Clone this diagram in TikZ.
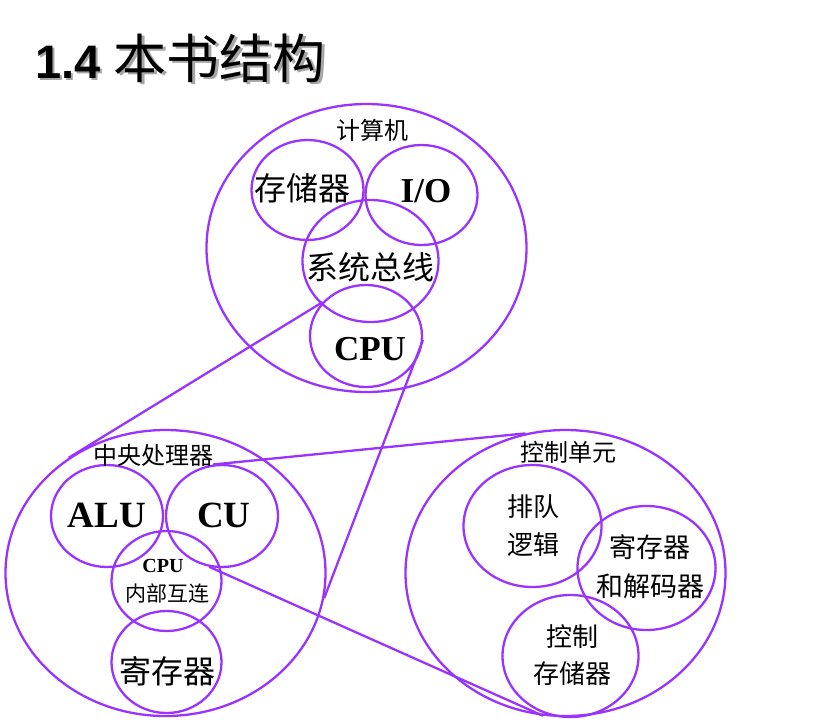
\documentclass[tikz,border=0pt]{standalone}
\usepackage{fontspec}
\setmainfont{Liberation Serif}
\newfontfamily\cjk{Noto Sans CJK SC}
\newfontfamily\titlefont{Liberation Sans}
\usetikzlibrary{shapes.geometric}
\definecolor{ring}{HTML}{9933FF}
\newcommand{\fsz}[1]{\fontsize{#1pt}{#1pt}\selectfont}
\newcommand{\heading}{\titlefont\bfseries\fsz{47}1.4 \cjk\mdseries\fsz{53}本书结构}
\tikzset{
  blob/.style={ellipse,draw=ring,line width=2.3pt,inner sep=0pt},
  link/.style={draw=ring,line width=2.3pt},
  zh/.style={font=\cjk\fsz{#1},inner sep=0pt},
  en/.style={font=\bfseries\fsz{#1},inner sep=0pt},
}
\begin{document}
\begin{tikzpicture}[x=1pt,y=-1pt]
  \path[use as bounding box] (0,0) rectangle (838,721);
  % title with its shadow
  \node[anchor=base west,inner sep=0pt] (title) at (35,78)
    {\rlap{\hspace{2.5pt}\raisebox{-2.5pt}{\color{black!35}\heading}}\heading};
  % computer
  \node[blob,minimum width=320pt,minimum height=288pt] (pc) at (366.5,248) {};
  \node[blob,minimum width=112pt,minimum height=100pt] (mem) at (307.5,190) {};
  \node[blob,minimum width=112pt,minimum height=100pt] (io) at (421.5,195) {};
  \node[blob,minimum width=136pt,minimum height=122pt] (bus) at (370.5,261) {};
  \node[blob,minimum width=112pt,minimum height=102pt] (cpu) at (366,336) {};
  \node[zh=24] (pc-t) at (372,130) {计算机};
  \node[zh=32] (mem-t) at (302,188) {存储器};
  \node[en=35] (io-t) at (426,191) {I/O};
  \node[zh=32] (bus-t) at (370,267) {系统总线};
  \node[en=35] (cpu-t) at (370,349) {CPU};
  % processor
  \node[blob,minimum width=320pt,minimum height=286pt] (proc) at (165.5,573) {};
  \node[blob,minimum width=112pt,minimum height=102pt] (alu) at (107,516) {};
  \node[blob,minimum width=112pt,minimum height=102pt] (cu) at (222,516) {};
  \node[blob,minimum width=110pt,minimum height=100pt] (ic) at (166.5,581) {};
  \node[blob,minimum width=110pt,minimum height=102pt] (reg) at (166.5,662) {};
  \node[zh=24] (proc-t) at (153,455) {中央处理器};
  \node[en=37] (alu-t) at (107,515) {ALU};
  \node[en=37] (cu-t) at (224,515) {CU};
  \node[en=20] (ic-t1) at (163,566) {CPU};
  \node[zh=21] (ic-t2) at (167,593) {内部互连};
  \node[zh=32] (reg-t) at (167,671) {寄存器};
  % control unit
  \node[blob,minimum width=320pt,minimum height=286pt] (ctl) at (565.5,573) {};
  \node[blob,minimum width=138pt,minimum height=122pt] (seq) at (532.5,526) {};
  \node[blob,minimum width=138pt,minimum height=124pt] (dec) at (646.5,568) {};
  \node[blob,minimum width=136pt,minimum height=122pt] (cmem) at (570.5,656) {};
  \node[zh=24] (ctl-t) at (568,452) {控制单元};
  \node[zh=26,align=center] (seq-t) at (533,526) {排队\\[12pt]逻辑};
  \node[zh=27,align=center] (dec-t) at (650,567) {寄存器\\[12pt]和解码器};
  \node[zh=26,align=center] (cmem-t) at (572,655) {控制\\[11pt]存储器};
  % zoom lines
  \draw[link] (cpu.142) -- (proc.130);
  \draw[link] (cpu.-4) -- (proc.-9);
  \draw[link] (cu.100) -- (ctl.106);
  \draw[link] (cu.-104) -- (ctl.-99);
\end{tikzpicture}
\end{document}
